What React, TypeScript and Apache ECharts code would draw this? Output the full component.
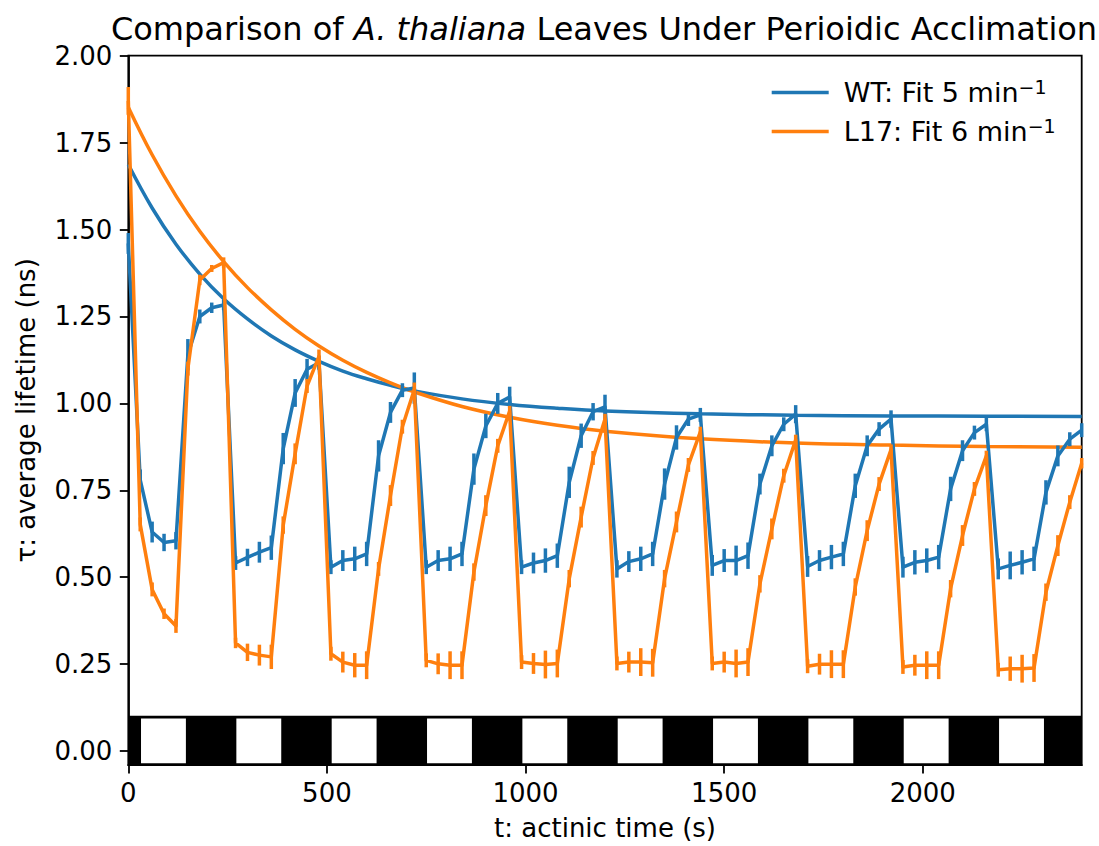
import React, { useEffect, useRef } from "react";
import * as echarts from "echarts";

// Sampling times of the lifetime measurements (s)
const times = [
  0, 30, 60, 90, 120, 150, 180, 210, 240, 270, 300, 330, 360, 390, 420, 450, 480,
  510, 540, 570, 600, 630, 660, 690, 720, 750, 780, 810, 840, 870, 900, 930, 960,
  990, 1020, 1050, 1080, 1110, 1140, 1170, 1200, 1230, 1260, 1290, 1320, 1350, 1380,
  1410, 1440, 1470, 1500, 1530, 1560, 1590, 1620, 1650, 1680, 1710, 1740, 1770, 1800,
  1830, 1860, 1890, 1920, 1950, 1980, 2010, 2040, 2070, 2100, 2130, 2160, 2190, 2220,
  2250, 2280, 2310, 2340, 2370, 2400,
];

// Wild type average lifetime (ns) and its error half-width
const wtLifetime = [
  1.46, 0.78, 0.63, 0.6, 0.605, 1.14, 1.25, 1.275, 1.283,
  0.541, 0.557, 0.572, 0.585, 0.87, 1.03, 1.098, 1.117,
  0.529, 0.548, 0.553, 0.567, 0.849, 0.974, 1.038, 1.044,
  0.529, 0.548, 0.553, 0.567, 0.811, 0.935, 1.0, 1.018,
  0.529, 0.541, 0.548, 0.562, 0.773, 0.907, 0.976, 0.99,
  0.524, 0.545, 0.553, 0.567, 0.768, 0.902, 0.955, 0.967,
  0.534, 0.548, 0.548, 0.562, 0.768, 0.878, 0.94, 0.969,
  0.531, 0.548, 0.558, 0.567, 0.763, 0.878, 0.926, 0.955,
  0.529, 0.543, 0.548, 0.558, 0.754, 0.864, 0.916, 0.94,
  0.524, 0.534, 0.543, 0.553, 0.744, 0.849, 0.897, 0.923,
];
const wtError = [
  0.03, 0.03, 0.03, 0.025, 0.025, 0.045, 0.02, 0.015, 0.015,
  0.02, 0.025, 0.03, 0.035, 0.045, 0.04, 0.03, 0.02,
  0.02, 0.03, 0.035, 0.035, 0.045, 0.03, 0.02, 0.045,
  0.02, 0.03, 0.035, 0.035, 0.045, 0.035, 0.03, 0.03,
  0.02, 0.03, 0.035, 0.035, 0.045, 0.035, 0.025, 0.035,
  0.025, 0.03, 0.035, 0.035, 0.045, 0.035, 0.02, 0.02,
  0.03, 0.033, 0.043, 0.038, 0.03, 0.03, 0.02, 0.026,
  0.03, 0.03, 0.035, 0.035, 0.035, 0.03, 0.02, 0.025,
  0.03, 0.035, 0.035, 0.035, 0.035, 0.03, 0.02, 0.02,
  0.03, 0.04, 0.035, 0.035, 0.035, 0.03, 0.02, 0.02,
];

// L17 average lifetime (ns) and its error half-width
const l17Lifetime = [
  1.87, 0.652, 0.465, 0.395, 0.36, 1.1, 1.355, 1.388, 1.405,
  0.311, 0.284, 0.276, 0.271, 0.65, 0.855, 1.05, 1.135,
  0.28, 0.256, 0.247, 0.247, 0.524, 0.735, 0.933, 1.04,
  0.261, 0.251, 0.247, 0.247, 0.515, 0.706, 0.878, 0.978,
  0.256, 0.252, 0.249, 0.252, 0.496, 0.673, 0.843, 0.955,
  0.252, 0.256, 0.256, 0.254, 0.496, 0.659, 0.823, 0.918,
  0.252, 0.256, 0.252, 0.256, 0.481, 0.639, 0.792, 0.895,
  0.244, 0.25, 0.25, 0.25, 0.472, 0.634, 0.768, 0.867,
  0.242, 0.247, 0.247, 0.247, 0.467, 0.62, 0.754, 0.849,
  0.234, 0.237, 0.237, 0.239, 0.457, 0.591, 0.716, 0.828,
];
const l17Error = [
  0.04, 0.02, 0.02, 0.015, 0.02, 0.02, 0.015, 0.01, 0.015,
  0.015, 0.025, 0.03, 0.035, 0.025, 0.03, 0.02, 0.02,
  0.02, 0.03, 0.035, 0.04, 0.02, 0.03, 0.02, 0.02,
  0.02, 0.03, 0.04, 0.04, 0.025, 0.03, 0.02, 0.015,
  0.02, 0.03, 0.04, 0.04, 0.025, 0.03, 0.02, 0.015,
  0.02, 0.03, 0.04, 0.04, 0.025, 0.03, 0.02, 0.015,
  0.02, 0.03, 0.04, 0.04, 0.025, 0.03, 0.02, 0.015,
  0.02, 0.03, 0.04, 0.04, 0.025, 0.03, 0.02, 0.015,
  0.02, 0.03, 0.04, 0.04, 0.025, 0.03, 0.02, 0.015,
  0.02, 0.035, 0.04, 0.04, 0.025, 0.03, 0.02, 0.015,
];

// Exponential fit curves, sampled along the time axis
const fitTimes = [
  0, 60, 120, 180, 240, 300, 360, 420, 480, 540, 600, 660, 720, 840, 960, 1080,
  1200, 1440, 1680, 1920, 2160, 2400,
];
const wtFit = [
  1.687, 1.562, 1.458, 1.372, 1.301, 1.243, 1.194, 1.154, 1.121, 1.093, 1.071,
  1.052, 1.036, 1.013, 0.997, 0.986, 0.978, 0.97, 0.966, 0.964, 0.963, 0.962,
];
const l17Fit = [
  1.852, 1.715, 1.597, 1.495, 1.408, 1.333, 1.269, 1.213, 1.165, 1.124, 1.089,
  1.059, 1.033, 0.991, 0.96, 0.937, 0.92, 0.898, 0.886, 0.88, 0.876, 0.874,
];

// Actinic light on/off schedule (s): light during [start, end]
const lightStart = [32, 272, 512, 752, 992, 1232, 1472, 1712, 1952, 2192];
const lightEnd = [145, 385, 625, 865, 1105, 1345, 1585, 1825, 2065, 2305];

const xTicks = [0, 500, 1000, 1500, 2000];
const yTicks = [0, 0.25, 0.5, 0.75, 1.0, 1.25, 1.5, 1.75, 2.0];

const BLUE = "#1f77b4";
const ORANGE = "#ff7f0e";
const FONT = "DejaVu Sans";

function rectItem(fill: string) {
  return (params: any, api: any) => {
    const p0 = api.coord([api.value(0), api.value(2)]);
    const p1 = api.coord([api.value(1), api.value(3)]);
    return {
      type: "rect",
      shape: { x: p0[0], y: p1[1], width: p1[0] - p0[0], height: p0[1] - p1[1] },
      style: { fill },
    };
  };
}

function errorBarItem(color: string) {
  return (params: any, api: any) => {
    const lo = api.coord([api.value(0), api.value(1)]);
    const hi = api.coord([api.value(0), api.value(2)]);
    return {
      type: "line",
      shape: { x1: lo[0], y1: lo[1], x2: hi[0], y2: hi[1] },
      style: { stroke: color, lineWidth: 3.5 },
    };
  };
}

export default function App() {
  const ref = useRef<HTMLDivElement>(null);

  useEffect(() => {
    if (!ref.current) return;
    const chart = echarts.init(ref.current, null, { renderer: "svg" });

    const wtPoints = times.map((t, i) => [t, wtLifetime[i]]);
    const l17Points = times.map((t, i) => [t, l17Lifetime[i]]);
    const wtBars = times.map((t, i) => [t, wtLifetime[i] - wtError[i], wtLifetime[i] + wtError[i]]);
    const l17Bars = times.map((t, i) => [t, l17Lifetime[i] - l17Error[i], l17Lifetime[i] + l17Error[i]]);
    const lightRects = lightStart.map((s, i) => [s, lightEnd[i], -0.035, 0.094]);

    const option: any = {
      animation: false,
      backgroundColor: "#fff",
      textStyle: { fontFamily: FONT },
      grid: {
        left: 128.3,
        right: 17.3,
        top: 55.7,
        bottom: 79.3,
        show: true,
        borderColor: "#000",
        borderWidth: 1.8,
        backgroundColor: "transparent",
      },
      graphic: [
        {
          type: "text",
          x: 604,
          y: 29,
          style: {
            text: "Comparison of {i|A. thaliana} Leaves Under Perioidic Acclimation",
            fontFamily: FONT,
            fontSize: 32,
            fill: "#000",
            align: "center",
            verticalAlign: "middle",
            rich: {
              i: { fontFamily: FONT, fontSize: 32, fontStyle: "italic", fill: "#000" },
            },
          },
        },
      ],
      legend: {
        orient: "vertical",
        left: 766.7,
        top: 72,
        itemWidth: 57,
        itemHeight: 3.6,
        itemGap: 8,
        icon: "rect",
        data: ["WT: Fit 5 min", "L17: Fit 6 min"],
        formatter: (name: string) => `${name}{sup|−1}`,
        textStyle: {
          fontFamily: FONT,
          fontSize: 27,
          color: "#000",
          lineHeight: 31,
          padding: [0, 0, 0, 10],
          rich: {
            sup: { fontFamily: FONT, fontSize: 19, color: "#000", verticalAlign: "top", lineHeight: 31, padding: [0, 0, 12, 0] },
          },
        },
      },
      xAxis: {
        type: "value",
        min: 0,
        max: 2400,
        name: "t: actinic time (s)",
        nameLocation: "middle",
        nameGap: 50,
        nameTextStyle: { fontFamily: FONT, fontSize: 26, color: "#000" },
        axisLine: { show: true, onZero: false, lineStyle: { color: "#000", width: 1.8 } },
        axisTick: { show: true, length: 8.5, lineStyle: { color: "#000", width: 1.8 }, customValues: xTicks },
        axisLabel: {
          fontFamily: FONT,
          fontSize: 26,
          color: "#000",
          margin: 15,
          customValues: xTicks,
          formatter: (v: number) => String(v),
        },
        splitLine: { show: false },
      },
      yAxis: {
        type: "value",
        min: -0.04,
        max: 2.0,
        name: "τ: average lifetime (ns)",
        nameLocation: "middle",
        nameGap: 89,
        nameTextStyle: { fontFamily: FONT, fontSize: 26, color: "#000" },
        axisLine: { show: true, onZero: false, lineStyle: { color: "#000", width: 1.8 } },
        axisTick: { show: true, length: 8.5, lineStyle: { color: "#000", width: 1.8 }, customValues: yTicks },
        axisLabel: {
          fontFamily: FONT,
          fontSize: 26,
          color: "#000",
          margin: 16,
          customValues: yTicks,
          formatter: (v: number) => v.toFixed(2),
        },
        splitLine: { show: false },
      },
      series: [
        {
          name: "dark",
          type: "custom",
          silent: true,
          renderItem: rectItem("#000"),
          encode: { x: [0, 1], y: [2, 3] },
          data: [[0, 2400, -0.04, 0.1016]],
          z: 1,
        },
        {
          name: "light",
          type: "custom",
          silent: true,
          renderItem: rectItem("#fff"),
          encode: { x: [0, 1], y: [2, 3] },
          data: lightRects,
          z: 2,
        },
        {
          name: "WT: Fit 5 min",
          type: "line",
          data: fitTimes.map((t, i) => [t, wtFit[i]]),
          smooth: 0.4,
          showSymbol: false,
          color: BLUE,
          lineStyle: { color: BLUE, width: 3.5 },
          z: 3,
        },
        {
          name: "L17: Fit 6 min",
          type: "line",
          data: fitTimes.map((t, i) => [t, l17Fit[i]]),
          smooth: 0.4,
          showSymbol: false,
          color: ORANGE,
          lineStyle: { color: ORANGE, width: 3.5 },
          z: 3,
        },
        {
          name: "WT",
          type: "line",
          data: wtPoints,
          showSymbol: false,
          color: BLUE,
          lineStyle: { color: BLUE, width: 3.5, join: "round" },
          z: 4,
        },
        {
          name: "WT error",
          type: "custom",
          silent: true,
          renderItem: errorBarItem(BLUE),
          encode: { x: 0, y: [1, 2] },
          data: wtBars,
          z: 4,
        },
        {
          name: "L17",
          type: "line",
          data: l17Points,
          showSymbol: false,
          color: ORANGE,
          lineStyle: { color: ORANGE, width: 3.5, join: "round" },
          z: 5,
        },
        {
          name: "L17 error",
          type: "custom",
          silent: true,
          renderItem: errorBarItem(ORANGE),
          encode: { x: 0, y: [1, 2] },
          data: l17Bars,
          z: 5,
        },
      ],
    };

    chart.setOption(option);
    return () => chart.dispose();
  }, []);

  return (
    <div
      ref={ref}
      style={{ position: "fixed", left: 0, top: 0, width: 1099, height: 846, background: "#fff" }}
    />
  );
}
